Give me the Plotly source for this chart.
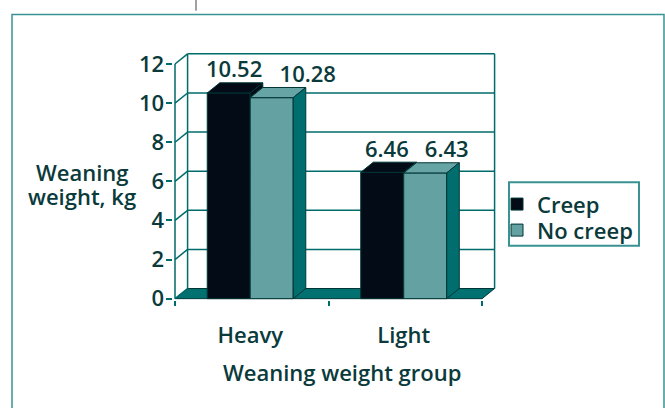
import plotly.graph_objects as go

# ---- data -----------------------------------------------------------------
groups = ["Heavy", "Light"]
creep = [10.52, 6.46]
no_creep = [10.28, 6.43]
y_ticks = [0, 2, 4, 6, 8, 10, 12]

# ---- styling / geometry ----------------------------------------------------
W, H = 665, 408
X0_PX, SX = 175.0, 153.5      # pixel of x=0 and pixels per x unit
Y0_PX, SY = 308.0, 20.3       # pixel of y=0 and pixels per y unit
XR = (-0.01, 2.12)
YR = (-0.06, 12.75)
DX, DY = 0.082, 0.52          # depth of the pseudo 3-D box
BAR_W = 0.28
CENTRE = 0.49
X_END = float(len(groups))

FONT = "Open Sans"
FS = 22
TEXT = "#0b3a3b"
EDGE = "#003535"
GRID = "#006b6b"
FRAME = "#3a9292"
C_CREEP = "#020b16"
C_NO = "#63a1a3"
C_NO_TOP = "#67a4a6"
C_SIDE = "#006e6e"
C_FLOOR = "#007070"


def tfont(size=FS):
    return dict(family=FONT, size=size, color=TEXT, weight=600)


LABEL_SHIFT_CREEP = [0.035, 0.03]
LABEL_SHIFT_NO = [0.235, 0.14]

pos = [i + CENTRE for i in range(len(groups))]

fig = go.Figure()

# front faces of the columns
fig.add_bar(x=pos, y=creep, width=BAR_W, offset=-BAR_W, name="Creep",
            legend="legend",
            marker=dict(color=C_CREEP, line=dict(color=EDGE, width=1)),
            hoverinfo="skip")
fig.add_bar(x=pos, y=no_creep, width=BAR_W, offset=0, name="No creep",
            legend="legend2",
            marker=dict(color=C_NO, line=dict(color=EDGE, width=1)),
            hoverinfo="skip")


def face(xs, ys, color):
    fig.add_scatter(x=xs + [xs[0]], y=ys + [ys[0]], mode="lines",
                    fill="toself", fillcolor=color,
                    line=dict(color=EDGE, width=1),
                    showlegend=False, hoverinfo="skip")


# top and side faces
for p, a, b in zip(pos, creep, no_creep):
    l1, r1 = p - BAR_W, p
    l2, r2 = p, p + BAR_W
    face([l1, l1 + DX, r1 + DX, r1], [a, a + DY, a + DY, a], C_CREEP)
    if a > b:  # right side of the taller creep column above its neighbour
        face([r1, r1, r1 + DX, r1 + DX], [b, a, a + DY, b + DY], C_CREEP)
    face([l2, l2 + DX, r2 + DX, r2], [b, b + DY, b + DY, b], C_NO_TOP)
    face([r2, r2 + DX, r2 + DX, r2], [0, DY, b + DY, b], C_SIDE)

# value labels
fig.add_scatter(
    x=[p - BAR_W / 2 + s for p, s in zip(pos, LABEL_SHIFT_CREEP)],
    y=[v + DY for v in creep], mode="text",
    text=[f"{v:.2f}" for v in creep], textposition="top center",
    textfont=tfont(), showlegend=False, hoverinfo="skip")
fig.add_scatter(
    x=[p + BAR_W / 2 + s for p, s in zip(pos, LABEL_SHIFT_NO)],
    y=[v + DY for v in no_creep], mode="text",
    text=[f"{v:.2f}" for v in no_creep], textposition="top center",
    textfont=tfont(), showlegend=False, hoverinfo="skip")

# ---- box: floor, back wall, gridlines --------------------------------------
shapes = []
shapes.append(dict(type="path", xref="x", yref="y", layer="below",
                   path=f"M 0 0 L {DX} {DY} L {X_END + DX} {DY} L {X_END} 0 Z",
                   fillcolor=C_FLOOR, line=dict(color=EDGE, width=1)))
for t in y_ticks[1:]:
    shapes.append(dict(type="line", xref="x", yref="y", layer="below",
                       x0=DX, x1=X_END + DX, y0=t + DY, y1=t + DY,
                       line=dict(color=GRID, width=1.5)))
for t in y_ticks:
    shapes.append(dict(type="line", xref="x", yref="y", layer="below",
                       x0=0, x1=DX, y0=t, y1=t + DY,
                       line=dict(color=GRID, width=1.5)))
for xv in (DX, X_END + DX):
    shapes.append(dict(type="line", xref="x", yref="y", layer="below",
                       x0=xv, x1=xv, y0=DY, y1=y_ticks[-1] + DY,
                       line=dict(color=GRID, width=1.5)))
shapes.append(dict(type="line", xref="x", yref="y", layer="below",
                   x0=0, x1=0, y0=0, y1=y_ticks[-1],
                   line=dict(color=GRID, width=1.5)))

# outer frame, legend frame
shapes.append(dict(type="rect", xref="paper", yref="paper",
                   x0=12 / W, x1=664 / W, y0=-0.05, y1=(H - 13) / H,
                   line=dict(color=FRAME, width=1.5)))
shapes.append(dict(type="line", xref="paper", yref="paper",
                   x0=196 / W, x1=196 / W, y0=(H - 9) / H, y1=1.01,
                   line=dict(color="#444444", width=1)))
shapes.append(dict(type="rect", xref="paper", yref="paper",
                   x0=509 / W, x1=639 / W, y0=(H - 253) / H, y1=(H - 187) / H,
                   line=dict(color=FRAME, width=2)))

# ---- axis titles -----------------------------------------------------------
annotations = [
    dict(text="Weaning", xref="paper", yref="paper",
         x=82 / W, y=(H - 177) / H, xanchor="center", yanchor="middle",
         showarrow=False, font=tfont()),
    dict(text="weight, kg", xref="paper", yref="paper",
         x=82 / W, y=(H - 201) / H, xanchor="center", yanchor="middle",
         showarrow=False, font=tfont()),
    dict(text="Weaning weight group", xref="paper", yref="paper",
         x=342 / W, y=(H - 384) / H, xanchor="center", yanchor="middle",
         showarrow=False, font=tfont()),
]

xdom = [(X0_PX + XR[0] * SX) / W, (X0_PX + XR[1] * SX) / W]
ydom = [(H - (Y0_PX - YR[0] * SY)) / H, (H - (Y0_PX - YR[1] * SY)) / H]

legend_style = dict(xanchor="left", yanchor="middle", x=497 / W,
                    bgcolor="rgba(0,0,0,0)", borderwidth=0, font=tfont())

fig.update_layout(
    width=W, height=H, margin=dict(l=0, r=0, t=0, b=0),
    paper_bgcolor="white", plot_bgcolor="white",
    font=tfont(),
    barmode="overlay", shapes=shapes, annotations=annotations,
    showlegend=True,
    legend=dict(y=(H - 210) / H, **legend_style),
    legend2=dict(y=(H - 237) / H, **legend_style),
    xaxis=dict(domain=xdom, range=list(XR), showgrid=False, zeroline=False,
               showline=False, tickmode="array", tickvals=pos, ticktext=groups,
               ticks="outside", ticklen=16, tickcolor="rgba(0,0,0,0)",
               tickfont=tfont(),
               minor=dict(tickmode="array",
                          tickvals=[float(i) for i in range(len(groups) + 1)],
                          ticks="outside", ticklen=5, tickwidth=1.5,
                          tickcolor=GRID, showgrid=False)),
    yaxis=dict(domain=ydom, range=list(YR), showgrid=False, zeroline=False,
               showline=False, tickmode="array", tickvals=y_ticks,
               ticks="outside", ticklen=6, tickwidth=1.5, tickcolor=GRID,
               ticklabelstandoff=-2, tickfont=tfont()),
)

fig.write_html("out.html")
